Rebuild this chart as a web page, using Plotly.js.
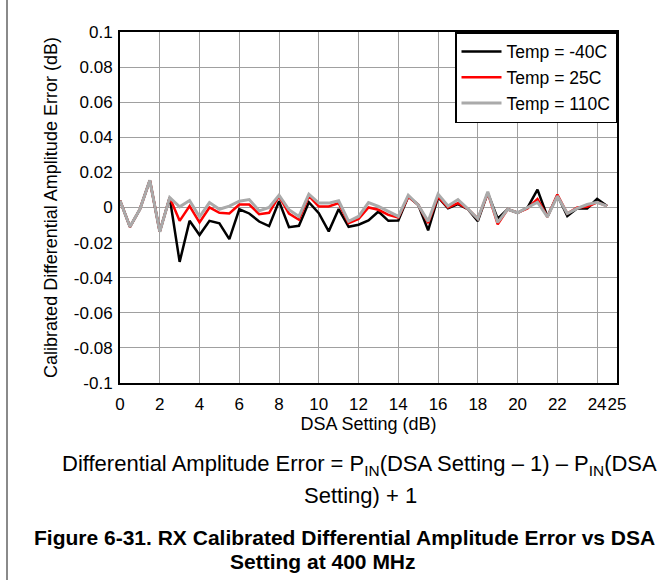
<!DOCTYPE html>
<html>
<head>
<meta charset="utf-8">
<script src="https://cdn.plot.ly/plotly-3.0.1.min.js"></script>
<style>
  html, body { margin: 0; padding: 0; background: #fff; }
  #wrap { position: relative; width: 662px; height: 580px; }
  #chart { width: 662px; height: 580px; }
  #frame { position: absolute; left: 6px; top: 0; width: 2px; height: 580px; background: #8a8a8a; }
</style>
</head>
<body>
<div id="wrap">
  <div id="chart"></div>
  <div id="frame"></div>
</div>
<script>
// DSA setting (dB)
const dsaSetting = [0, 0.5, 1, 1.5, 2, 2.5, 3, 3.5, 4, 4.5, 5, 5.5, 6, 6.5, 7, 7.5, 8, 8.5, 9, 9.5,
  10, 10.5, 11, 11.5, 12, 12.5, 13, 13.5, 14, 14.5, 15, 15.5, 16, 16.5, 17, 17.5, 18, 18.5, 19, 19.5,
  20, 20.5, 21, 21.5, 22, 22.5, 23, 23.5, 24, 24.5];

// Calibrated differential amplitude error (dB)
const tempMinus40 = [0.004, -0.011, -0.001, 0.0155, -0.0138, 0.0057, -0.031, -0.0076, -0.0157, -0.0076,
  -0.009, -0.018, -0.001, -0.0034, -0.008, -0.0106, 0.0036, -0.0112, -0.0104, 0.003,
  -0.0032, -0.0136, -0.0009, -0.011, -0.0098, -0.0074, -0.0023, -0.0076, -0.0074, 0.0062,
  0.0015, -0.013, 0.0059, -0.0004, 0.0019, -0.001, -0.0078, 0.0083, -0.0064, -0.001,
  -0.003, 0, 0.0102, -0.0053, 0.007, -0.0049, -0.0005, -0.0005, 0.0049, 0.0008];

const temp25 = [0.004, -0.011, -0.001, 0.0155, -0.0138, 0.0057, -0.0076, 0.0008, -0.0085, 0,
  -0.003, -0.0034, 0.0017, 0.0017, -0.0038, -0.003, 0.0065, -0.0035, -0.007, 0.0066,
  0.0006, 0.0006, 0.0025, -0.0089, -0.0066, 0, -0.0013, -0.0042, -0.0057, 0.0062,
  0.0015, -0.0089, 0.0062, 0, 0.0025, -0.0008, -0.0064, 0.0083, -0.0096, -0.001,
  -0.003, -0.0005, 0.0049, -0.0053, 0.0074, -0.0034, 0, 0.0004, 0.003, 0.0008];

const temp110 = [0.004, -0.011, -0.001, 0.0155, -0.0138, 0.0057, 0.0004, 0.004, -0.0053, 0.0028,
  -0.001, 0.0008, 0.0036, 0.0045, -0.0019, 0, 0.007, -0.0013, -0.0051, 0.0076,
  0.0025, 0.0025, 0.0038, -0.0079, -0.0051, 0.0028, 0.0006, -0.0023, -0.0051, 0.007,
  0.0015, -0.0079, 0.0076, 0.0009, 0.0045, -0.0008, -0.0064, 0.009, -0.0085, -0.001,
  -0.003, 0, 0.003, -0.0053, 0.0065, -0.0034, -0.0005, 0.0017, 0.003, 0.0008];

const seriesNames = ['Temp = -40C', 'Temp = 25C', 'Temp = 110C'];

const xTickVals = [0, 2, 4, 6, 8, 10, 12, 14, 16, 18, 20, 22, 24, 25];
const xTickText = ['0', '2', '4', '6', '8', '10', '12', '14', '16', '18', '20', '22', '24', '25'];
const yTickVals = [0.1, 0.08, 0.06, 0.04, 0.02, 0, -0.02, -0.04, -0.06, -0.08, -0.1];
const yTickText = ['0.1', '0.08', '0.06', '0.04', '0.02', '0', '-0.02', '-0.04', '-0.06', '-0.08', '-0.1'];

const font = 'Liberation Sans, Arial, sans-serif';

const traces = [
  { x: dsaSetting, y: tempMinus40, name: seriesNames[0], mode: 'lines', line: { color: '#000000', width: 2.5 } },
  { x: dsaSetting, y: temp25, name: seriesNames[1], mode: 'lines', line: { color: '#ff0000', width: 2.5 } },
  { x: dsaSetting, y: temp110, name: seriesNames[2], mode: 'lines', line: { color: '#aaaaaa', width: 3 } }
];

const layout = {
  width: 662, height: 580,
  margin: { l: 120, r: 45, t: 32, b: 197 },
  paper_bgcolor: '#ffffff', plot_bgcolor: '#ffffff',
  font: { family: font, size: 17, color: '#000' },
  showlegend: true,
  legend: {
    x: 1, xanchor: 'right', y: 1, yanchor: 'top',
    bordercolor: '#000', borderwidth: 1.5, bgcolor: '#fff',
    font: { family: font, size: 17.5, color: '#000' },
    tracegroupgap: 0, itemwidth: 40
  },
  xaxis: {
    range: [0, 25], tickmode: 'array', tickvals: xTickVals, ticktext: xTickText,
    tickangle: 0,
    showgrid: true, gridcolor: '#a0a0a0', gridwidth: 1,
    zeroline: false, showline: true, mirror: true, linecolor: '#000', linewidth: 2,
    ticks: 'outside', ticklen: 5, tickcolor: 'rgba(0,0,0,0)',
    tickfont: { family: font, size: 17 },
    title: { text: 'DSA Setting (dB)', font: { family: font, size: 18 }, standoff: 4 }
  },
  yaxis: {
    range: [-0.1, 0.1], tickmode: 'array', tickvals: yTickVals, ticktext: yTickText,
    showgrid: true, gridcolor: '#a0a0a0', gridwidth: 1,
    zeroline: false, showline: true, mirror: true, linecolor: '#000', linewidth: 2,
    ticks: 'outside', ticklen: 2, tickcolor: 'rgba(0,0,0,0)',
    tickfont: { family: font, size: 17 },
    title: { text: 'Calibrated Differential Amplitude Error (dB)', font: { family: font, size: 18 }, standoff: 12 }
  },
  annotations: [
    { xref: 'paper', yref: 'paper', x: (359 - 120) / 497, y: -(465 - 383) / 351, xanchor: 'center', yanchor: 'middle',
      showarrow: false, font: { family: font, size: 22 },
      text: 'Differential Amplitude Error = P<sub>IN</sub>(DSA Setting – 1) – P<sub>IN</sub>(DSA' },
    { xref: 'paper', yref: 'paper', x: (360 - 120) / 497, y: -(495 - 383) / 351, xanchor: 'center', yanchor: 'middle',
      showarrow: false, font: { family: font, size: 22 }, text: 'Setting) + 1' },
    { xref: 'paper', yref: 'paper', x: (344 - 120) / 497, y: -(537 - 383) / 351, xanchor: 'center', yanchor: 'middle',
      showarrow: false, font: { family: font, size: 21 },
      text: '<b>Figure 6-31. RX Calibrated Differential Amplitude Error vs DSA</b>' },
    { xref: 'paper', yref: 'paper', x: (323 - 120) / 497, y: -(561 - 383) / 351, xanchor: 'center', yanchor: 'middle',
      showarrow: false, font: { family: font, size: 21 }, text: '<b>Setting at 400 MHz</b>' }
  ]
};

Plotly.newPlot('chart', traces, layout, { staticPlot: true, displayModeBar: false });
</script>
</body>
</html>
